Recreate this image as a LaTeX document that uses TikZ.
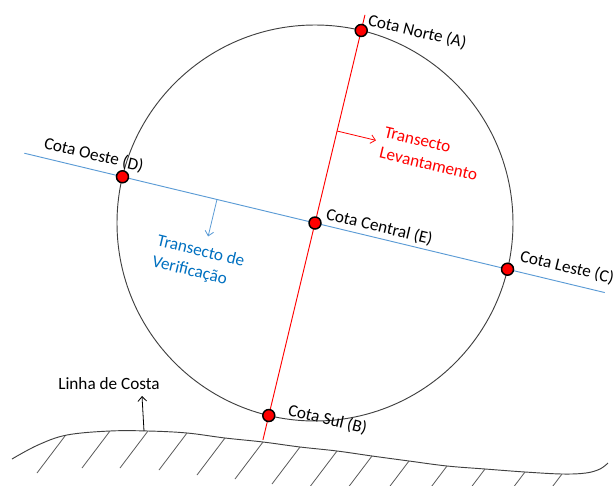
\documentclass[tikz,border=0pt]{standalone}
\usepackage{fontspec}
\setmainfont{Carlito}
\usetikzlibrary{calc,arrows.meta}
\definecolor{lineblue}{RGB}{91,155,213}
\definecolor{textblue}{RGB}{0,112,192}
\definecolor{circgray}{RGB}{64,64,64}
\definecolor{hatchgray}{RGB}{90,90,90}
\definecolor{cotared}{RGB}{255,0,0}
\begin{document}
\begin{tikzpicture}[x=0.75pt,y=-0.75pt,
  lbl/.style={font=\fontsize{12.9}{15.9}\selectfont, inner sep=0pt, rotate=-13.5},
  cota/.style={circle, fill=cotared, draw=black, line width=1.1pt, minimum size=9pt, inner sep=0pt},
  tip/.style={-{Straight Barb[length=3.5pt,width=6.5pt]}},
  thinline/.style={line width=0.7pt},
  ]
\useasboundingbox (0,0) rectangle (615,486);
\coordinate (E0) at (315,223);
% circle
\draw[circgray, thinline] (E0) circle[radius=148.5pt];
% transects
\coordinate (redtop) at ($(E0)+(-76.5:214)$);
\coordinate (redbot) at ($(E0)+(103.5:223)$);
\coordinate (blueL) at ($(E0)+(193.5:299)$);
\coordinate (blueR) at ($(E0)+(13.5:298)$);
\draw[cotared, thinline] (redtop) -- (redbot);
\draw[lineblue, thinline] (blueL) -- (blueR);
% direction arrows
\coordinate (ra0) at ($(E0)+(-76.5:94.6)$);
\coordinate (ra1) at ($(ra0)+(13.5:40)$);
\draw[cotared, tip, line width=0.6pt] (ra0) -- (ra1);
\coordinate (ba0) at ($(E0)+(193.5:100.8)$);
\coordinate (ba1) at ($(ba0)+(103.5:38)$);
\draw[lineblue, tip, line width=0.6pt] (ba0) -- (ba1);
% coast
\draw[circgray, thinline] plot[smooth, tension=0.6] coordinates {(12,459) (38,445) (67,435) (110,431) (148,431) (187,433) (225,438) (263,442) (300,447) (337,451) (372,456) (409,461) (447,466) (485,469) (525,472) (562,474) (586,473) (600,469) (608,463)};
\begin{scope}
\clip (0,0) rectangle (615,486);
\foreach \hx/\hy in {65/436,110/431,148/431,187/433,225/438,263/442,300/447,337/451,372/456,409/461,447/466,485/469,525/472,562/474}
  \draw[hatchgray, line width=0.6pt] (\hx,\hy) -- ++(-28,37);
\end{scope}
\node[font=\fontsize{12.9}{15.9}\selectfont, inner sep=0pt] (lc) at (109,384) {Linha de Costa};
\coordinate (cst) at (144,431);
\coordinate (csttip) at (142,396);
\draw[black, tip, line width=0.6pt] (cst) -- (csttip);
% points
\node[cota] (A) at ($(E0)+(-76.5:198)$) {};
\node[cota] (B) at ($(E0)+(103.5:198)$) {};
\node[cota] (C) at ($(E0)+(13.5:198)$) {};
\node[cota] (D) at ($(E0)+(193.5:198)$) {};
\node[cota] (E) at (E0) {};
% labels
\node[lbl, anchor=base west] (lA) at (367,25) {Cota Norte (A)};
\node[lbl, anchor=base west] (lD) at (43,148) {Cota Oeste (D)};
\node[lbl, anchor=base west] (lE) at (325,219) {Cota Central (E)};
\node[lbl, anchor=base west] (lC) at (519,261) {Cota Leste (C)};
\node[lbl, anchor=base west] (lB) at (287,415) {Cota Sul (B)};
\node[lbl, anchor=north west, text=cotared, align=left] (tl) at (386,126) {Transecto\\Levantamento};
\node[lbl, anchor=north west, text=textblue, align=left] (tv) at (159,234) {Transecto de\\Verificação};
\end{tikzpicture}
\end{document}
